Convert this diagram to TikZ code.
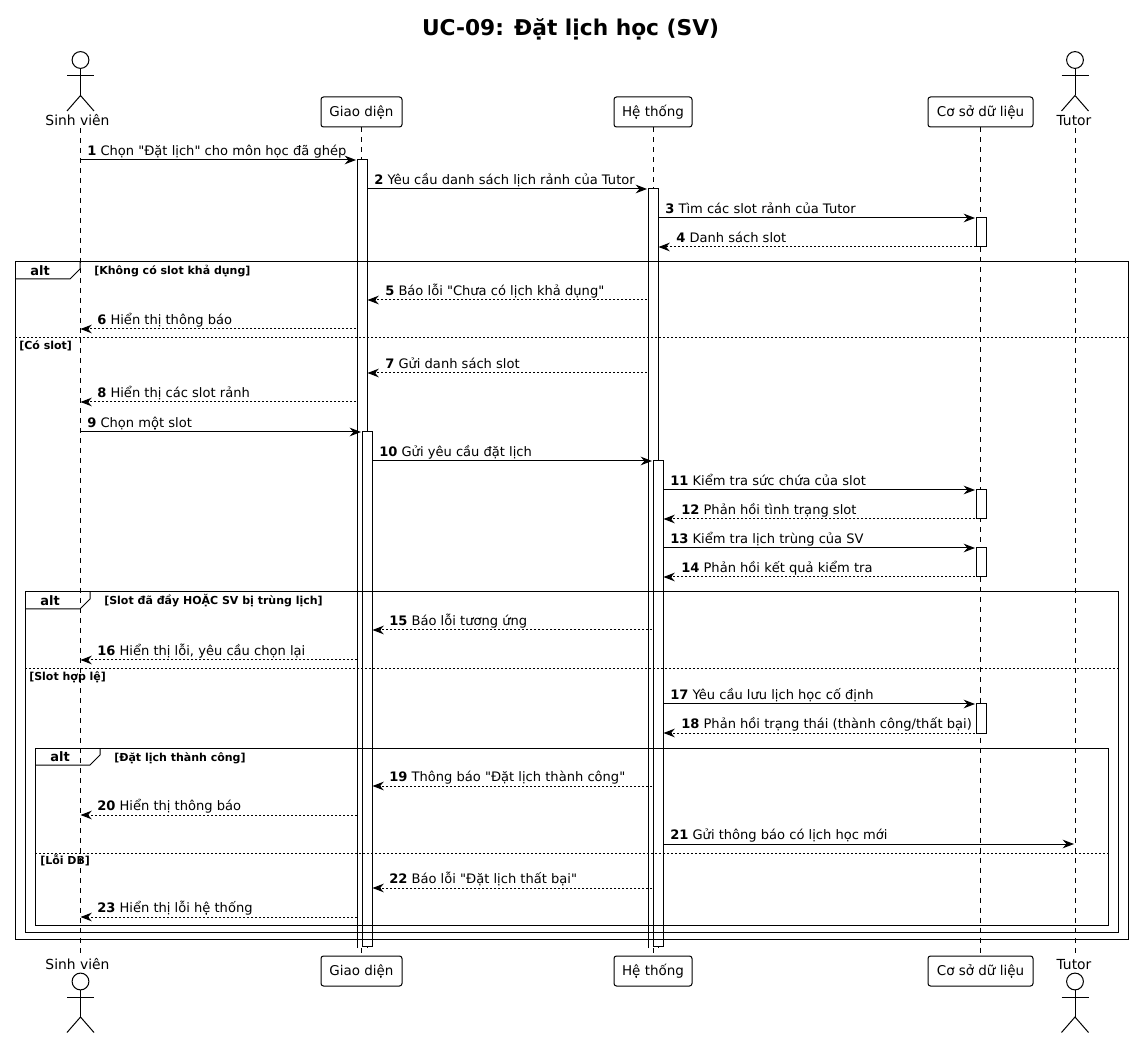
\documentclass[tikz,border=0pt]{standalone}
\usepackage{fontspec}
\newfontfamily\dvf{DejaVu Sans}
\usetikzlibrary{arrows.meta}
\tikzset{
  x=0.75pt,y=-0.75pt,
  ln/.style={line width=0.75pt,draw=black},
  life/.style={line width=0.75pt,draw=black,dash pattern=on 3.75pt off 3.75pt},
  part/.style={draw=black,line width=0.75pt,rounded corners=1.9pt,fill=white,minimum width=#1,minimum height=22.5pt,inner sep=0pt,font=\fontsize{10.1}{12}\selectfont},
  actlabel/.style={anchor=base,inner sep=0pt,font=\fontsize{10.4}{12}\selectfont},
  solidmsg/.style={line width=0.75pt,draw=black,-{Stealth[length=8.5pt,width=6.5pt,inset=2.8pt]}},
  retmsg/.style={line width=0.75pt,draw=black,dash pattern=on 1.5pt off 1.5pt,-{Stealth[length=8.5pt,width=6.5pt,inset=2.8pt]}},
  msglabel/.style={anchor=base west,inner sep=0pt,font=\fontsize{9.8}{12}\selectfont},
  altword/.style={anchor=base west,inner sep=0pt,font=\bfseries\fontsize{9.75}{12}\selectfont},
  guard/.style={anchor=base west,inner sep=0pt,font=\bfseries\fontsize{8.25}{10}\selectfont},
  divider/.style={line width=0.75pt,draw=black,dash pattern=on 1.5pt off 1.5pt},
  barbox/.style={draw=black,line width=0.75pt,fill=white,inner sep=0pt,outer sep=0pt,anchor=north},
  openbar/.style={fill=white,inner sep=0pt,outer sep=0pt,anchor=north},
}
\newcommand{\actbar}[4]{% name, x centre, y1, y2
  \pgfmathsetmacro{\barh}{(#4-#3)*0.75}
  \node[barbox,minimum width=7.5pt,minimum height=\barh pt] (#1) at (#2,#3) {};}
\newcommand{\openactbar}[4]{% bar whose lower end stays open
  \pgfmathsetmacro{\barh}{(#4-#3)*0.75}
  \node[openbar,minimum width=7.5pt,minimum height=\barh pt] (#1) at (#2,#3) {};
  \draw[ln] (#1.south west) -- (#1.north west) -- (#1.north east) -- (#1.south east);}
\newcommand{\seqmsg}[7]{% style, n, x1, x2, y, label x, text
  \coordinate (m#2s) at (#3,#5);
  \coordinate (m#2e) at (#4,#5);
  \draw[#1] (m#2s) -- (m#2e);
  \node[msglabel] (t#2) at (#6,#5-4.3) {\textbf{#2} #7};}
\newcommand{\stickman}[2]{% x, head centre y
  \draw[ln] (#1,#2) circle (8.4);
  \draw[ln] (#1,#2+8.4) -- (#1,#2+35.5);
  \draw[ln] (#1-13.5,#2+16) -- (#1+13.5,#2+16);
  \draw[ln] (#1-13.5,#2+51) -- (#1,#2+35.5) -- (#1+13.5,#2+51);}
\newcommand{\altframe}[7]{% x1,y1,x2,y2, tab right, alt x, guard
  \draw[ln] (#1,#2) rectangle (#3,#4);
  \draw[ln] (#1,#2+17) -- (#5-10,#2+17) -- (#5,#2+7) -- (#5,#2);
  \node[altword] at (#6,#2+14) {alt};
  \node[guard] at (#5+14,#2+13) {#7};}
\begin{document}
\begin{tikzpicture}
\dvf
\useasboundingbox[fill=white] (0,0) rectangle (1133,1037);
\node[anchor=base,inner sep=0pt,font=\bfseries\fontsize{16.3}{20}\selectfont] (title) at (570.5,35.5) {UC-09: Đặt lịch học (SV)};

% participants top
\node[actlabel] (svt) at (77.5,126) {Sinh viên};
\node[actlabel] (tut) at (1074,126) {Tutor};
\node[part=60.75pt] (gdt) at (361.5,112) {Giao diện};
\node[part=58.5pt] (htt) at (653,112) {Hệ thống};
\node[part=78.75pt] (dbt) at (980.5,112) {Cơ sở dữ liệu};
% participants bottom
\node[actlabel] (svb) at (77.5,969) {Sinh viên};
\node[actlabel] (tub) at (1074,969) {Tutor};
\node[part=60.75pt] (gdb) at (361.5,971) {Giao diện};
\node[part=58.5pt] (htb) at (653,971) {Hệ thống};
\node[part=78.75pt] (dbb) at (980.5,971) {Cơ sở dữ liệu};

\coordinate (svl1) at (80.5,128); \coordinate (svl2) at (80.5,954);
\coordinate (tul1) at (1075,128); \coordinate (tul2) at (1075,954);
\draw[life] (svl1) -- (svl2);
\draw[life] (tul1) -- (tul2);
\draw[life] (gdt.south) -- (gdb.north);
\draw[life] (htt.south) -- (htb.north);
\draw[life] (dbt.south) -- (dbb.north);

\stickman{80.5}{60}
\stickman{1075}{60}
\stickman{80.5}{981.5}
\stickman{1075}{981.5}

% activation bars
\openactbar{ag1}{362}{160}{948}
\actbar{ag2}{367}{432}{946}
\openactbar{ah1}{653}{189}{948}
\actbar{ah2}{658}{461}{946}
\actbar{ad1}{981}{218}{247}
\actbar{ad2}{981}{490}{519}
\actbar{ad3}{981}{548}{577}
\actbar{ad4}{981}{704}{733}

% frames
\altframe{15}{262}{1128}{939}{80}{30}{[Không có slot khả dụng]}
\altframe{25}{592}{1118}{932}{90}{40}{[Slot đã đầy HOẶC SV bị trùng lịch]}
\altframe{35}{748}{1108}{925}{100}{50}{[Đặt lịch thành công]}
\coordinate (d1a) at (15,338); \coordinate (d1b) at (1128,338);
\draw[divider] (d1a) -- (d1b);
\node[guard] (g1) at (19,350) {[Có slot]};
\coordinate (d2a) at (25,669); \coordinate (d2b) at (1118,669);
\draw[divider] (d2a) -- (d2b);
\node[guard] (g2) at (29,681) {[Slot hợp lệ]};
\coordinate (d3a) at (35,853); \coordinate (d3b) at (1108,853);
\draw[divider] (d3a) -- (d3b);
\node[guard] (g3) at (40,864.5) {[Lỗi DB]};

% messages
\seqmsg{solidmsg}{1}{80.5}{356}{160}{87}{Chọn "Đặt lịch" cho môn học đã ghép}
\seqmsg{solidmsg}{2}{367}{647}{189}{374}{Yêu cầu danh sách lịch rảnh của Tutor}
\seqmsg{solidmsg}{3}{658}{975}{218}{665}{Tìm các slot rảnh của Tutor}
\seqmsg{retmsg}{4}{976}{658.5}{247}{676}{Danh sách slot}
\seqmsg{retmsg}{5}{647}{367.5}{300}{385}{Báo lỗi "Chưa có lịch khả dụng"}
\seqmsg{retmsg}{6}{356}{80.5}{329}{97}{Hiển thị thông báo}
\seqmsg{retmsg}{7}{647}{367.5}{373}{385}{Gửi danh sách slot}
\seqmsg{retmsg}{8}{356}{80.5}{402}{97}{Hiển thị các slot rảnh}
\seqmsg{solidmsg}{9}{80.5}{361}{432}{87}{Chọn một slot}
\seqmsg{solidmsg}{10}{372}{652}{461}{379}{Gửi yêu cầu đặt lịch}
\seqmsg{solidmsg}{11}{663}{975}{490}{670}{Kiểm tra sức chứa của slot}
\seqmsg{retmsg}{12}{975}{663.5}{519}{681}{Phản hồi tình trạng slot}
\seqmsg{solidmsg}{13}{663}{975}{548}{670}{Kiểm tra lịch trùng của SV}
\seqmsg{retmsg}{14}{975}{663.5}{577}{681}{Phản hồi kết quả kiểm tra}
\seqmsg{retmsg}{15}{652}{372.5}{630}{389}{Báo lỗi tương ứng}
\seqmsg{retmsg}{16}{357}{80.5}{660}{97}{Hiển thị lỗi, yêu cầu chọn lại}
\seqmsg{solidmsg}{17}{663}{975}{704}{670}{Yêu cầu lưu lịch học cố định}
\seqmsg{retmsg}{18}{975}{663.5}{733}{681}{Phản hồi trạng thái (thành công/thất bại)}
\seqmsg{retmsg}{19}{652}{372.5}{786}{389}{Thông báo "Đặt lịch thành công"}
\seqmsg{retmsg}{20}{357}{80.5}{815}{97}{Hiển thị thông báo}
\seqmsg{solidmsg}{21}{663}{1074}{844}{670}{Gửi thông báo có lịch học mới}
\seqmsg{retmsg}{22}{652}{372.5}{888}{389}{Báo lỗi "Đặt lịch thất bại"}
\seqmsg{retmsg}{23}{357}{80.5}{917}{97}{Hiển thị lỗi hệ thống}
\end{tikzpicture}
\end{document}
